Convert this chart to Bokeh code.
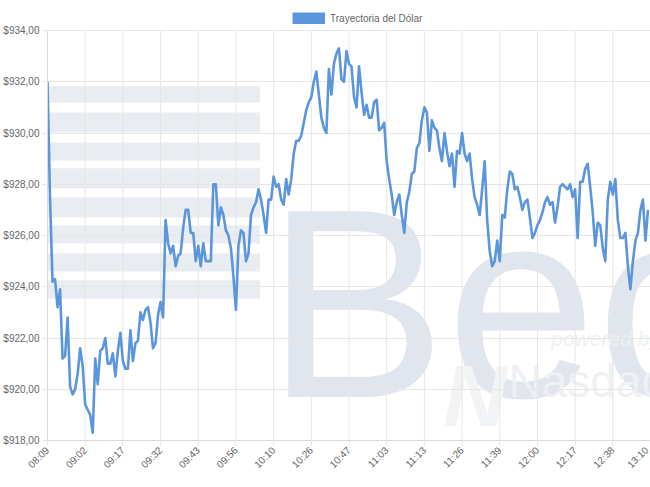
import math
from bokeh.plotting import figure
from bokeh.models import Range1d, Legend, LegendItem, ColumnDataSource
from bokeh.core.properties import value
from bokeh.embed import file_html
from bokeh.resources import INLINE

series_name = "Trayectoria del Dólar"

prices = [
    932.0, 927.5, 924.2, 924.3, 923.2, 923.9, 921.2, 921.3, 922.8, 920.1,
    919.8, 920.0, 920.6, 921.6, 920.9, 919.4, 919.2, 919.0, 918.3, 921.2,
    920.2, 921.5, 921.6, 922.0, 921.0, 921.0, 921.4, 920.5, 921.5, 922.2,
    921.1, 920.8, 920.8, 922.3, 921.1, 921.8, 921.9, 923.0, 922.7, 923.1,
    923.2, 922.6, 921.6, 921.8, 922.9, 923.4, 922.8, 926.6, 925.7, 925.3,
    925.6, 924.8, 925.2, 925.3, 926.3, 927.0, 927.0, 926.1, 926.1, 925.0,
    925.6, 924.8, 925.7, 925.0, 925.0, 925.0, 928.0, 928.0, 926.4, 927.1,
    926.8, 926.2, 926.0, 925.5, 924.4, 923.1, 925.6, 926.2, 926.1, 925.0,
    925.3, 926.8, 927.1, 927.3, 927.8, 927.4, 926.8, 926.1, 927.4, 927.4,
    928.3, 927.9, 928.0, 927.4, 927.2, 928.2, 927.6, 928.2, 929.2, 929.7,
    929.7, 929.9, 930.4, 930.9, 931.2, 931.4, 932.0, 932.4, 931.5, 930.6,
    930.2, 930.0, 932.5, 931.5, 932.7, 933.1, 933.3, 932.1, 932.0, 933.2,
    932.7, 932.6, 931.4, 931.0, 932.6, 931.6, 930.7, 931.1, 930.6, 930.6,
    931.2, 931.3, 930.1, 930.2, 930.4, 928.9, 928.2, 927.6, 926.8, 927.3,
    927.6, 926.8, 926.1, 927.3, 927.7, 928.4, 928.5, 929.4, 929.6, 930.5,
    931.0, 930.8, 929.3, 930.5, 930.2, 930.1, 929.4, 928.9, 930.0, 929.3,
    928.7, 929.2, 927.9, 929.3, 929.2, 930.0, 929.2, 928.9, 929.2, 928.2,
    927.5, 927.2, 926.8, 927.8, 928.9, 926.6, 925.4, 924.8, 925.0, 925.8,
    925.0, 926.8, 926.7, 927.8, 928.5, 928.4, 927.8, 927.9, 927.5, 927.0,
    927.3, 927.4, 926.7, 925.9, 926.1, 926.4, 926.6, 926.9, 927.3, 927.5,
    927.2, 927.3, 926.5, 927.1, 927.9, 928.0, 927.9, 927.8, 928.0, 927.5,
    927.8, 925.9, 928.1, 928.1, 928.6, 928.8, 927.9, 926.9, 925.6, 926.5,
    926.4, 925.5, 925.0, 927.4, 928.1, 927.6, 928.2, 926.6, 925.9, 925.9,
    926.1, 924.8, 923.9, 925.0, 925.8, 926.1, 927.0, 927.4, 925.8, 927.0,
]

time_labels = ["08:09", "09:02", "09:17", "09:32", "09:43", "09:56", "10:10",
               "10:26", "10:47", "11:03", "11:13", "11:26", "11:39", "12:00",
               "12:17", "12:38", "13:10"]
label_step = 15

y_ticks = [918, 920, 922, 924, 926, 928, 930, 932, 934]
y_tick_labels = ["$918,00", "$920,00", "$922,00", "$924,00", "$926,00",
                 "$928,00", "$930,00", "$932,00", "$934,00"]

line_color = "#5b96dc"
grid_color = "#e6e6e6"
text_color = "#666666"
font = "Liberation Sans"

idx = list(range(len(prices)))
x_ticks = [i * label_step for i in range(len(time_labels))]

# frame: 46..650 px wide, 0..440 px tall; top 30 px of the frame hold the legend
y_lo, y_hi = y_ticks[0], y_ticks[-1]
px_per_unit = 410 / (y_hi - y_lo)
y_top = y_hi + 30 / px_per_unit

p = figure(width=650, height=487, output_backend="svg", toolbar_location=None,
           x_range=Range1d(0, x_ticks[-1]), y_range=Range1d(y_lo, y_top),
           min_border_left=46, min_border_right=0, min_border_bottom=47,
           min_border_top=0)
p.outline_line_color = None

# faint watermark (decoration only)
wm_band = "#e9ecf1"
bands_top = [931.82, 930.80, 929.63, 928.62, 927.48, 926.39, 925.30, 924.25]
bands_bot = [931.19, 930.02, 928.93, 927.84, 926.70, 925.69, 924.60, 923.54]
p.quad(left=[-3] * 8, right=[84.6] * 8, top=bands_top, bottom=bands_bot,
       fill_color=wm_band, line_color=None, level="image")
p.text(x=[87.0], y=[923.35], text=["Bec"], text_font=value(font),
       text_font_size="270px", text_color="#e1e6ee", text_baseline="alphabetic",
       level="image")
p.text(x=[200.5], y=[921.98], text=["powered by"], text_font=value(font),
       text_font_size="21px", text_font_style="italic", text_color="#eef0f3",
       text_baseline="alphabetic", level="image")
p.text(x=[183.5], y=[920.34], text=["Nasdaq"], text_font=value(font),
       text_font_size="46px", text_color="#eef0f3", text_baseline="alphabetic",
       level="image")
p.text(x=[157.5], y=[919.76], text=["N"], text_font=value(font),
       text_font_size="88px", text_font_style="bold italic", text_color="#f2f3f5",
       text_baseline="alphabetic", level="image")

# vertical grid lines only over the value range
p.segment(x0=x_ticks, y0=[y_lo] * len(x_ticks), x1=x_ticks, y1=[y_hi] * len(x_ticks),
          line_color=grid_color, line_width=1, level="underlay")

src = ColumnDataSource(data=dict(x=idx, y=prices))
line_r = p.line("x", "y", source=src, line_color=line_color, line_width=2.6,
                line_join="round")

# hidden renderer only used for the legend's filled swatch
swatch = p.line("x", "y", source=src, line_color=line_color,
                line_width=12, line_cap="butt", visible=False)
legend = Legend(items=[LegendItem(label=series_name, renderers=[swatch])],
                orientation="horizontal", location=(245, 416),
                glyph_width=33, glyph_height=12, label_height=12,
                label_text_font_size="10px", label_text_color=text_color,
                label_text_font=font, label_standoff=5, padding=4, margin=0,
                border_line_color=None, background_fill_alpha=0,
                inactive_fill_alpha=0, click_policy="none")
p.add_layout(legend)

p.xaxis.ticker = x_ticks
p.xaxis.major_label_overrides = {t: lab for t, lab in zip(x_ticks, time_labels)}
p.xaxis.major_label_orientation = math.pi / 4
p.yaxis.ticker = y_ticks
p.yaxis.major_label_overrides = {t: lab for t, lab in zip(y_ticks, y_tick_labels)}
p.yaxis.bounds = (y_lo, y_hi)

for ax in (p.xaxis[0], p.yaxis[0]):
    ax.axis_line_color = "#d9d9d9"
    ax.major_tick_line_color = grid_color
    ax.major_tick_out = 5
    ax.major_tick_in = 0
    ax.minor_tick_line_color = None
    ax.major_label_text_font = font
    ax.major_label_text_font_size = "10px"
    ax.major_label_text_color = text_color
    ax.major_label_standoff = 3

p.xgrid.grid_line_color = None
p.ygrid.grid_line_color = grid_color

open("out.html", "w").write(file_html(p, INLINE))
